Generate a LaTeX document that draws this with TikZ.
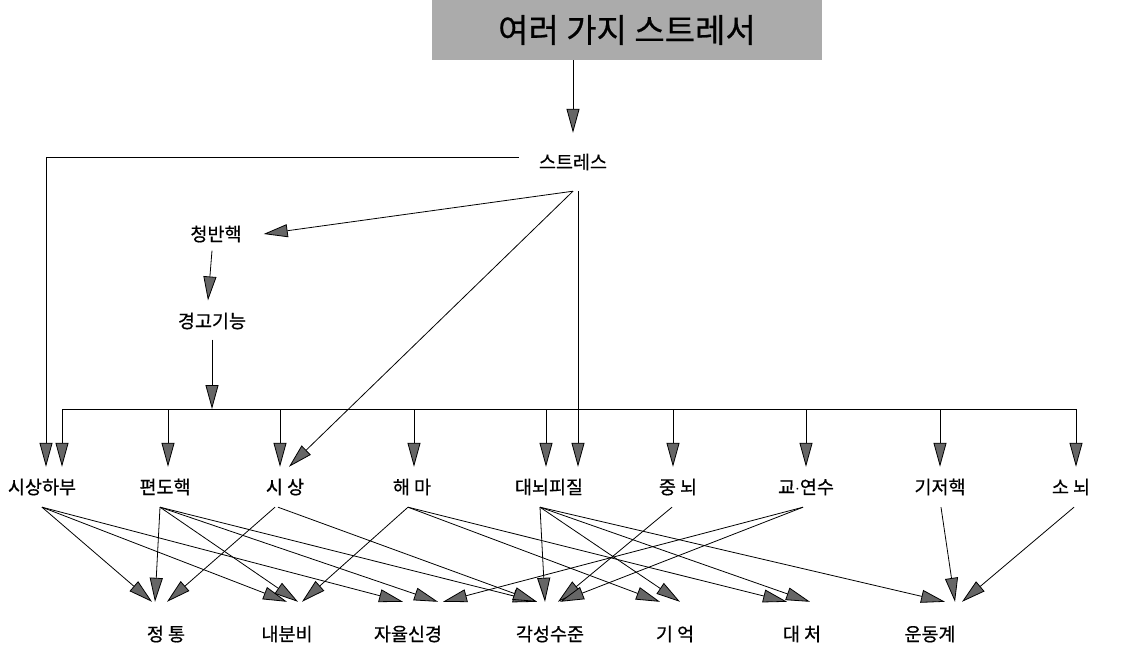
\documentclass[tikz,border=0pt]{standalone}
\usepackage{fontspec}
\setmainfont[FakeBold=0.6]{Noto Sans CJK KR}
\usetikzlibrary{arrows.meta,calc}
\begin{document}
\begin{tikzpicture}[x=1pt,y=-1pt,
  lbl/.style={font=\fontsize{18.5}{21}\selectfont, inner sep=0pt},
  mid/.style={lbl, minimum height=40pt},
  bot/.style={lbl, minimum height=64pt},
  arr/.style={-{Triangle[length=24pt,width=13pt,fill=black!60]}, line width=0.8pt, draw=black},
  ln/.style={line width=0.8pt}
]
\useasboundingbox (0,0) rectangle (1128,658);

% title
\node[fill=black!33, minimum width=390pt, minimum height=60pt, inner sep=0pt,
      font=\fontsize{33}{35}\selectfont] (title) at (627,30) {여러 가지 스트레서};
\node[lbl, inner xsep=20pt, minimum height=58pt] (stress) at (573,162) {스트레스};
\node[lbl] (cb) at (216,234) {청반핵};
\node[lbl] (kg) at (212,321) {경고기능};

% middle row
\node[mid] (sh) at (42,487) {시상하부};
\node[mid] (pd) at (165,487) {편도핵};
\node[mid] (ss) at (285,487) {시 상};
\node[mid] (hm) at (412,487) {해 마};
\node[mid] (dn) at (549,487) {대뇌피질};
\node[mid] (jn) at (678,487) {중 뇌};
\node[mid] (gy) at (806,487) {교$\cdot$연수};
\node[mid] (gj) at (940,487) {기저핵};
\node[mid] (sn) at (1071,487) {소 뇌};

% bottom row
\node[bot] (jt) at (166,634) {정 통};
\node[bot] (nb) at (287,634) {내분비};
\node[bot] (jy) at (408,634) {자율신경};
\node[bot] (gs) at (550,634) {각성수준};
\node[bot] (gu) at (675,634) {기 억};
\node[bot] (dc) at (802,634) {대 처};
\node[bot] (ud) at (930,634) {운동계};

% top connections
\draw[arr] (title.south -| stress.north) -- (stress.north);
\draw[arr] ([yshift=5pt]stress.west) -| ([xshift=4pt]sh.north);
\draw[arr] (stress.south) -- ([xshift=22pt]cb.east);
\draw[arr] (stress.south) -- ([xshift=4pt]ss.north);
\draw[arr] ([xshift=5pt]stress.south) -- ([xshift=29pt]dn.north);
\draw[arr] ([xshift=-4pt,yshift=-8pt]cb.south) -- ([xshift=-4pt,yshift=12pt]kg.north);

% bus
\coordinate (bl) at (62,409);
\coordinate (br) at (1076,409);
\draw[arr] ([yshift=-10pt]kg.south) -- (kg.south |- bl);
\draw[ln] (bl) -- (br);
\foreach \n/\d in {sh/20,pd/3,ss/-5,hm/2,dn/-3,jn/-5,gy/0,gj/0,sn/5}{
  \draw[arr] ([xshift=\d pt]\n.north |- bl) -- ([xshift=\d pt]\n.north);
}

% bottom connections
\draw[arr] ([xshift=0pt]sh.south) -- ([xshift=-14pt]jt.north);
\draw[arr] ([xshift=0pt]sh.south) -- ([xshift=0pt]nb.north);
\draw[arr] ([xshift=0pt]sh.south) -- ([xshift=-5pt]jy.north);

\draw[arr] ([xshift=-5pt]pd.south) -- ([xshift=-11pt]jt.north);
\draw[arr] ([xshift=-5pt]pd.south) -- ([xshift=11pt]nb.north);
\draw[arr] ([xshift=-5pt]pd.south) -- ([xshift=30pt]jy.north);
\draw[arr] ([xshift=-5pt]pd.south) -- ([xshift=-13pt]gs.north);

\draw[arr] ([xshift=-10pt]ss.south) -- ([xshift=1pt]jt.north);
\draw[arr] ([xshift=-7pt]ss.south) -- ([xshift=-13pt]gs.north);

\draw[arr] ([xshift=-4pt]hm.south) -- ([xshift=15pt]nb.north);
\draw[arr] ([xshift=-4pt]hm.south) -- ([xshift=-15pt]gu.north);
\draw[arr] ([xshift=-4pt]hm.south) -- ([xshift=-15pt]dc.north);

\draw[arr] ([xshift=-9pt]dn.south) -- ([xshift=-5pt]gs.north);
\draw[arr] ([xshift=-9pt]dn.south) -- ([xshift=5pt]gu.north);
\draw[arr] ([xshift=-9pt]dn.south) -- ([xshift=8pt]dc.north);
\draw[arr] ([xshift=-9pt]dn.south) -- ([xshift=15pt]ud.north);

\draw[arr] ([xshift=-6pt]jn.south) -- ([xshift=8pt]gs.north);

\draw[arr] ([xshift=-3pt]gy.south) -- ([xshift=10pt]gs.north);
\draw[arr] ([xshift=-3pt]gy.south) -- ([xshift=35pt]jy.north);

\draw[arr] ([xshift=1pt]gj.south) -- ([xshift=25pt]ud.north);
\draw[arr] ([xshift=3pt]sn.south) -- ([xshift=32pt]ud.north);
\end{tikzpicture}
\end{document}
